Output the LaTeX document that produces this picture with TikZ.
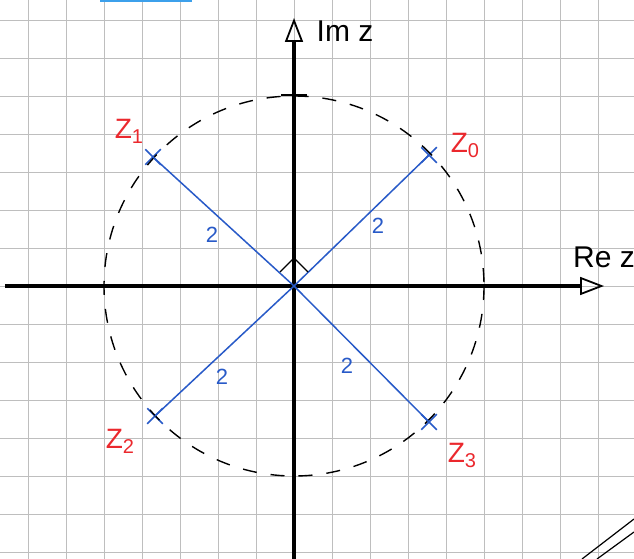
\documentclass[tikz,border=0pt]{standalone}
\usepackage{fontspec}
\setmainfont{Liberation Sans}
\usetikzlibrary{arrows.meta,shapes.misc}
\definecolor{gridgray}{RGB}{190,190,190}
\definecolor{penblue}{RGB}{40,90,200}
\definecolor{penred}{RGB}{235,40,45}
\definecolor{smear}{RGB}{60,160,235}
\begin{document}
\begin{tikzpicture}[x=1pt,y=-1pt,
  gridline/.style={draw=gridgray,line width=0.8pt},
  axis/.style={line width=3.2pt,black,-{Triangle[open,length=24pt,width=18pt,line width=1.8pt]}},
  radius line/.style={draw=penblue,line width=1.5pt},
  dashcircle/.style={draw=black,line width=1.4pt,dash pattern=on 14pt off 14pt},
  crossmark/.style={cross out,draw=penblue,line width=1.5pt,minimum size=14pt,inner sep=0pt},
  zlabel/.style={text=penred,font=\fontsize{28}{30}\selectfont,inner sep=0pt},
  twolabel/.style={text=penblue,font=\fontsize{22}{24}\selectfont,inner sep=0pt},
  axislabel/.style={text=black,font=\fontsize{30}{32}\selectfont,inner sep=0pt}]
\useasboundingbox[fill=white] (0,0) rectangle (634,559);
% grid
\foreach \x in {28,66,...,598} \draw[gridline] (\x,0) -- (\x,559);
\foreach \y in {20,58,...,552} \draw[gridline] (0,\y) -- (634,\y);
% smear at top and double line at bottom right
\fill[smear] (100,0) rectangle (192,2.5);
\draw[line width=1.2pt] (582,559) -- (634,519);
\draw[line width=1.2pt] (597,559) -- (634,532);
% origin and points
\coordinate (O) at (294,286);
\coordinate (xl) at (5,286);
\coordinate (xr) at (604,286);
\coordinate (yb) at (294,559);
\coordinate (yt) at (294,18);
\node[crossmark] (z0) at (429,155) {};
\node[crossmark] (z1) at (153,157) {};
\node[crossmark] (z2) at (155,416) {};
\node[crossmark] (z3) at (429,422) {};
% circle
\draw[dashcircle] (O) circle[radius=190];
% axes
\draw[axis] (xl) -- (xr);
\draw[axis] (yb) -- (yt);
\draw[line width=1.2pt] (281,95) -- (307,95);
% radius lines
\draw[radius line] (O) -- (z0.center);
\draw[radius line] (O) -- (z1.center);
\draw[radius line] (O) -- (z2.center);
\draw[radius line] (O) -- (z3.center);
% right angle
\draw[line width=1.4pt,line join=miter] (O) ++(-14,-14) -- ++(14,-14) -- ++(14,14);
% labels
\node[zlabel] (l1) at (129,131) {Z\raisebox{-5pt}{\fontsize{20}{20}\selectfont 1}};
\node[zlabel] (l0) at (465,145) {Z\raisebox{-5pt}{\fontsize{20}{20}\selectfont 0}};
\node[zlabel] (l2) at (120,441) {Z\raisebox{-5pt}{\fontsize{20}{20}\selectfont 2}};
\node[zlabel] (l3) at (462,455) {Z\raisebox{-5pt}{\fontsize{20}{20}\selectfont 3}};
\node[twolabel] (t1) at (212,235) {2};
\node[twolabel] (t0) at (378,226) {2};
\node[twolabel] (t2) at (222,377) {2};
\node[twolabel] (t3) at (347,366) {2};
\node[axislabel] (im) at (345,31) {Im z};
\node[axislabel] (re) at (604,257) {Re z};
\end{tikzpicture}
\end{document}
